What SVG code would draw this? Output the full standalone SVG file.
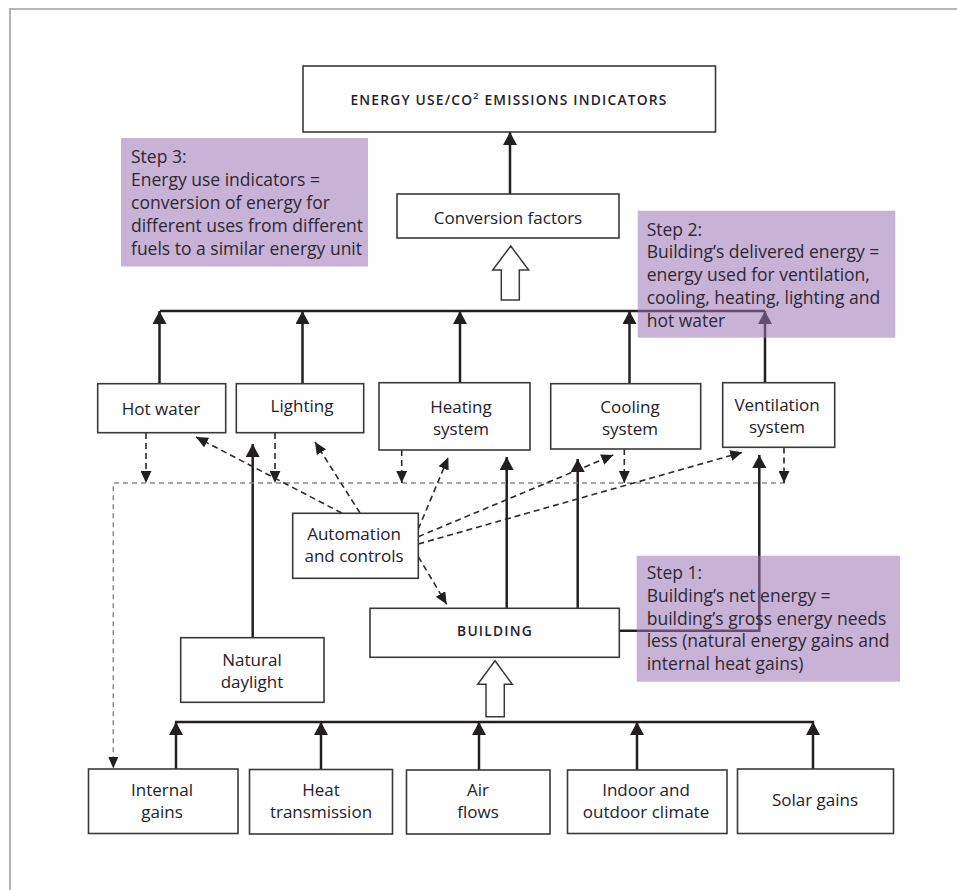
<svg xmlns="http://www.w3.org/2000/svg" width="957" height="890" viewBox="0 0 957 890">
  <style>
    .box { fill: #ffffff; stroke: #3a3a3a; stroke-width: 1.6; }
    .lbl { font-family: "Open Sans", "Liberation Sans", sans-serif; font-size: 17px; font-weight: 500; fill: #24212b; text-anchor: middle; }
    .caps { font-family: "Open Sans", "Liberation Sans", sans-serif; font-size: 13.8px; font-weight: 600; letter-spacing: 1.2px; fill: #24212b; text-anchor: middle; }
    .note { fill: #9b72b3; fill-opacity: 0.55; }
    .ntxt { font-family: "Open Sans", "Liberation Sans", sans-serif; font-size: 17.5px; font-weight: 500; fill: #2f2836; }
    .solid { fill: none; stroke: #231f20; stroke-width: 2.5; }
    .dash { fill: none; stroke: #2a2a2a; stroke-width: 1.6; stroke-dasharray: 6 4; }
    .gdash { fill: none; stroke: #8a8a8a; stroke-width: 1.5; stroke-dasharray: 5 4; }
    .hollow { fill: #ffffff; stroke: #3a3a3a; stroke-width: 1.5; }
    .frame { stroke: #b4b0c6; stroke-width: 2; fill: none; }
  </style>
  <defs>
    <marker id="ah" markerUnits="userSpaceOnUse" markerWidth="14" markerHeight="14" viewBox="0 0 12 13" refX="12" refY="6.5" orient="auto">
      <path d="M0,0 L12,6.5 L0,13 Z" fill="#231f20"/>
    </marker>
    <marker id="dh" markerUnits="userSpaceOnUse" markerWidth="12" markerHeight="11" viewBox="0 0 11 10" refX="11" refY="5" orient="auto">
      <path d="M0,0 L11,5 L0,10 Z" fill="#231f20"/>
    </marker>
  </defs>

  <!-- page frame -->
  <path class="frame" d="M10,890 V9 H957"/>

  <!-- connectors -->
  <g id="connectors">
    <!-- upper bus: end uses feed the conversion stage -->
    <line class="solid" x1="160" y1="311" x2="765" y2="311"/>
    <line class="solid" x1="159.5" y1="384" x2="159.5" y2="311" marker-end="url(#ah)"/>
    <line class="solid" x1="302.5" y1="384" x2="302.5" y2="311" marker-end="url(#ah)"/>
    <line class="solid" x1="460" y1="383" x2="460" y2="311" marker-end="url(#ah)"/>
    <line class="solid" x1="629.5" y1="384" x2="629.5" y2="311" marker-end="url(#ah)"/>
    <line class="solid" x1="765" y1="383" x2="765" y2="311" marker-end="url(#ah)"/>
    <line class="solid" x1="510" y1="194" x2="510" y2="132" marker-end="url(#ah)"/>

    <!-- building and daylight supply -->
    <line class="solid" x1="252.7" y1="638" x2="252.7" y2="444" marker-end="url(#ah)"/>
    <line class="solid" x1="506.7" y1="608" x2="506.7" y2="457" marker-end="url(#ah)"/>
    <line class="solid" x1="577.7" y1="608" x2="577.7" y2="459" marker-end="url(#ah)"/>
    <polyline class="solid" points="619.3,630.7 759.3,630.7 759.3,455" marker-end="url(#ah)"/>

    <!-- lower bus: gains and losses feed the building -->
    <line class="solid" x1="175" y1="722" x2="814" y2="722"/>
    <line class="solid" x1="176" y1="769" x2="176" y2="722" marker-end="url(#ah)"/>
    <line class="solid" x1="321" y1="769" x2="321" y2="722" marker-end="url(#ah)"/>
    <line class="solid" x1="479" y1="770" x2="479" y2="722" marker-end="url(#ah)"/>
    <line class="solid" x1="637" y1="770" x2="637" y2="722" marker-end="url(#ah)"/>
    <line class="solid" x1="813" y1="769" x2="813" y2="722" marker-end="url(#ah)"/>

    <!-- heat losses returned as internal gains -->
    <polyline class="gdash" points="785,483 113.3,483 113.3,766" />
    <path d="M108.3,757 L118.3,757 L113.3,768.5 Z" fill="#231f20"/>
    <line class="dash" x1="146" y1="433" x2="146" y2="483" marker-end="url(#dh)"/>
    <line class="dash" x1="275" y1="433" x2="275" y2="483" marker-end="url(#dh)"/>
    <line class="dash" x1="401.7" y1="450" x2="401.7" y2="483" marker-end="url(#dh)"/>
    <line class="dash" x1="624.3" y1="449" x2="624.3" y2="483" marker-end="url(#dh)"/>
    <line class="dash" x1="784" y1="447.5" x2="784" y2="483" marker-end="url(#dh)"/>

    <!-- control signals -->
    <line class="dash" x1="341.7" y1="513" x2="196" y2="437" marker-end="url(#dh)"/>
    <line class="dash" x1="360" y1="513" x2="315" y2="442" marker-end="url(#dh)"/>
    <line class="dash" x1="418.3" y1="529" x2="448.3" y2="457.3" marker-end="url(#dh)"/>
    <line class="dash" x1="418.3" y1="536.7" x2="613.3" y2="455" marker-end="url(#dh)"/>
    <line class="dash" x1="418.3" y1="544" x2="742.3" y2="452.3" marker-end="url(#dh)"/>
    <line class="dash" x1="418.3" y1="556.7" x2="446.7" y2="604.3" marker-end="url(#dh)"/>

    <!-- block arrows -->
    <polygon class="hollow" points="510.7,246 528.7,270 519.3,270 519.3,300 501.3,300 501.3,270 492.7,270"/>
    <polygon class="hollow" points="495,660.7 512.3,684.3 504.3,684.3 504.3,716.7 486,716.7 486,684.3 477.7,684.3"/>
  </g>

  <!-- nodes -->
  <g id="indicators">
    <rect class="box" x="303" y="66" width="412.5" height="66"/>
    <text class="caps" x="509" y="105">ENERGY USE/CO<tspan font-size="9" dy="-6">2</tspan><tspan dy="6"> EMISSIONS INDICATORS</tspan></text>
  </g>
  <g id="conversion">
    <rect class="box" x="397" y="194" width="222" height="44"/>
    <text class="lbl" x="508" y="224">Conversion factors</text>
  </g>
  <g id="hot-water">
    <rect class="box" x="97.7" y="383.7" width="128" height="49"/>
    <text class="lbl" x="161" y="415">Hot water</text>
  </g>
  <g id="lighting">
    <rect class="box" x="236.3" y="383.7" width="127.4" height="49"/>
    <text class="lbl" x="302" y="412">Lighting</text>
  </g>
  <g id="heating">
    <rect class="box" x="379" y="382.7" width="151" height="67.3"/>
    <text class="lbl" x="461" y="413">Heating</text>
    <text class="lbl" x="461" y="435">system</text>
  </g>
  <g id="cooling">
    <rect class="box" x="550.7" y="383.7" width="150" height="65.3"/>
    <text class="lbl" x="630" y="413">Cooling</text>
    <text class="lbl" x="630" y="434.5">system</text>
  </g>
  <g id="ventilation">
    <rect class="box" x="722.7" y="382.7" width="112" height="64.6"/>
    <text class="lbl" x="777" y="410.5">Ventilation</text>
    <text class="lbl" x="777" y="433">system</text>
  </g>
  <g id="automation">
    <rect class="box" x="292.7" y="513.3" width="125.6" height="65"/>
    <text class="lbl" x="354" y="540">Automation</text>
    <text class="lbl" x="354" y="562">and controls</text>
  </g>
  <g id="daylight">
    <rect class="box" x="180.7" y="637.7" width="143.3" height="64.6"/>
    <text class="lbl" x="252" y="665.5">Natural</text>
    <text class="lbl" x="252" y="687.5">daylight</text>
  </g>
  <g id="building">
    <rect class="box" x="370" y="608.3" width="249.3" height="49"/>
    <text class="caps" x="495" y="636">BUILDING</text>
  </g>
  <g id="internal-gains">
    <rect class="box" x="88.5" y="769" width="149.5" height="64.5"/>
    <text class="lbl" x="162" y="795.5">Internal</text>
    <text class="lbl" x="162" y="818">gains</text>
  </g>
  <g id="heat-transmission">
    <rect class="box" x="249.5" y="769.5" width="143" height="64.5"/>
    <text class="lbl" x="321" y="795.5">Heat</text>
    <text class="lbl" x="321" y="818">transmission</text>
  </g>
  <g id="air-flows">
    <rect class="box" x="406.5" y="770" width="143.5" height="64"/>
    <text class="lbl" x="478" y="795.5">Air</text>
    <text class="lbl" x="478" y="818">flows</text>
  </g>
  <g id="climate">
    <rect class="box" x="567.5" y="770" width="159.5" height="63.5"/>
    <text class="lbl" x="646" y="795.5">Indoor and</text>
    <text class="lbl" x="646" y="818">outdoor climate</text>
  </g>
  <g id="solar-gains">
    <rect class="box" x="737.5" y="769" width="156" height="64.5"/>
    <text class="lbl" x="815" y="806">Solar gains</text>
  </g>

  <!-- step notes -->
  <g id="step-3">
    <rect class="note" x="121" y="138" width="247" height="128.5"/>
    <text class="ntxt" x="131" y="163">Step 3:</text>
    <text class="ntxt" x="131" y="186">Energy use indicators =</text>
    <text class="ntxt" x="131" y="209">conversion of energy for</text>
    <text class="ntxt" x="131" y="232">different uses from different</text>
    <text class="ntxt" x="131" y="254.5">fuels to a similar energy unit</text>
  </g>
  <g id="step-2">
    <rect class="note" x="637.7" y="210.7" width="257.6" height="127"/>
    <text class="ntxt" x="646.7" y="235.5">Step 2:</text>
    <text class="ntxt" x="646.7" y="258">Building’s delivered energy =</text>
    <text class="ntxt" x="646.7" y="281">energy used for ventilation,</text>
    <text class="ntxt" x="646.7" y="304">cooling, heating, lighting and</text>
    <text class="ntxt" x="646.7" y="327">hot water</text>
  </g>
  <g id="step-1">
    <rect class="note" x="636.7" y="555.7" width="263.3" height="126"/>
    <text class="ntxt" x="646.7" y="578.5">Step 1:</text>
    <text class="ntxt" x="646.7" y="601.5">Building’s net energy =</text>
    <text class="ntxt" x="646.7" y="624.5">building’s gross energy needs</text>
    <text class="ntxt" x="646.7" y="647">less (natural energy gains and</text>
    <text class="ntxt" x="646.7" y="670">internal heat gains)</text>
  </g>
</svg>
